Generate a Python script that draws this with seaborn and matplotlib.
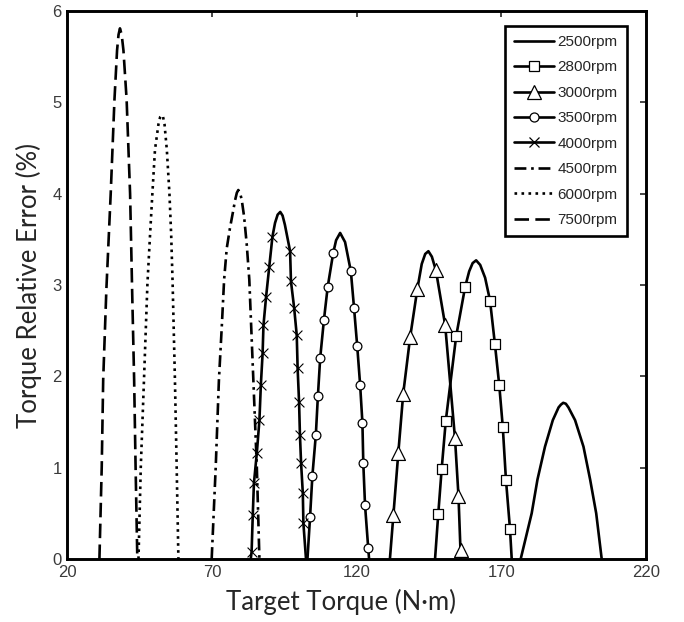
import matplotlib
matplotlib.use("Agg")
import matplotlib.pyplot as plt
from matplotlib.lines import Line2D
import seaborn as sns

# curve points (torque N*m, relative error %)
x_2500 = [176.7, 180.5, 182.5, 185.1, 187.8, 189.8, 190.6, 191.4, 192.3, 193.2, 195.5, 198.4, 200.7, 202.8, 204.7]
y_2500 = [0.0, 0.50, 0.87, 1.23, 1.52, 1.66, 1.69, 1.71, 1.70, 1.66, 1.52, 1.23, 0.87, 0.50, 0.0]

x_2800 = [147.1, 148.2, 149.4, 150.8, 154.4, 157.5, 158.9, 160.1, 161.3, 162.7, 164.4, 166.1, 167.8, 169.3, 170.5, 171.6, 173.0, 173.6]
y_2800 = [0.0, 0.49, 0.99, 1.51, 2.44, 2.98, 3.15, 3.24, 3.27, 3.22, 3.08, 2.83, 2.35, 1.90, 1.45, 0.87, 0.33, 0.0]
mx_2800 = [148.2, 149.4, 150.8, 154.4, 157.5, 166.1, 167.8, 169.3, 170.5, 171.6, 173.0]
my_2800 = [0.49, 0.99, 1.51, 2.44, 2.98, 2.83, 2.35, 1.90, 1.45, 0.87, 0.33]

x_3000 = [131.5, 132.7, 134.4, 136.1, 138.5, 141.0, 142.5, 143.7, 144.8, 146.0, 147.4, 150.6, 154.0, 155.2, 156.0]
y_3000 = [0.0, 0.48, 1.16, 1.81, 2.43, 2.96, 3.23, 3.34, 3.37, 3.31, 3.16, 2.56, 1.32, 0.69, 0.0]
mx_3000 = [132.7, 134.4, 136.1, 138.5, 141.0, 147.4, 150.6, 154.0, 155.2, 156.0]
my_3000 = [0.48, 1.16, 1.81, 2.43, 2.96, 3.16, 2.56, 1.32, 0.69, 0.10]

x_3500 = [103.0, 103.9, 104.7, 105.9, 106.6, 107.4, 108.7, 110.0, 111.9, 112.9, 114.3, 116.0, 118.0, 119.1, 120.2, 121.2, 122.0, 122.3, 122.9, 124.0, 124.3]
y_3500 = [0.0, 0.46, 0.91, 1.36, 1.78, 2.20, 2.62, 2.98, 3.35, 3.49, 3.57, 3.47, 3.15, 2.75, 2.33, 1.91, 1.49, 1.05, 0.59, 0.12, 0.0]
mx_3500 = [103.9, 104.7, 105.9, 106.6, 107.4, 108.7, 110.0, 111.9, 118.0, 119.1, 120.2, 121.2, 122.0, 122.3, 122.9, 124.0]
my_3500 = [0.46, 0.91, 1.36, 1.78, 2.20, 2.62, 2.98, 3.35, 3.15, 2.75, 2.33, 1.91, 1.49, 1.05, 0.59, 0.12]

x_4000 = [83.4, 83.7, 84.1, 84.5, 85.5, 86.4, 86.9, 87.5, 87.8, 88.7, 89.8, 90.9, 91.8, 92.7, 93.6, 94.4, 95.2, 97.0, 97.3, 98.4, 99.3, 99.6, 100.1, 100.4, 100.8, 101.4, 101.6, 102.5]
y_4000 = [0.0, 0.08, 0.48, 0.83, 1.16, 1.52, 1.91, 2.25, 2.56, 2.87, 3.20, 3.53, 3.68, 3.77, 3.80, 3.76, 3.66, 3.37, 3.04, 2.75, 2.45, 2.09, 1.72, 1.36, 1.05, 0.72, 0.39, 0.0]
mx_4000 = [83.7, 84.1, 84.5, 85.5, 86.4, 86.9, 87.5, 87.8, 88.7, 89.8, 90.9, 97.0, 97.3, 98.4, 99.3, 99.6, 100.1, 100.4, 100.8, 101.4, 101.6]
my_4000 = [0.08, 0.48, 0.83, 1.16, 1.52, 1.91, 2.25, 2.56, 2.87, 3.20, 3.53, 3.37, 3.04, 2.75, 2.45, 2.09, 1.72, 1.36, 1.05, 0.72, 0.39]

x_4500 = [69.9, 71.3, 72.4, 73.4, 74.2, 75.1, 76.2, 77.2, 78.0, 78.6, 79.1, 79.7, 80.3, 81.1, 82.0, 82.9, 84.3, 85.5, 86.4]
y_4500 = [0.0, 1.01, 1.96, 2.55, 3.06, 3.40, 3.62, 3.79, 3.93, 4.01, 4.04, 4.01, 3.93, 3.75, 3.45, 3.06, 1.96, 1.01, 0.0]

x_6000 = [44.6, 45.4, 46.5, 47.7, 48.6, 49.4, 50.3, 51.5, 52.1, 52.6, 53.1, 53.6, 54.4, 55.3, 55.9, 56.4, 57.2, 57.8, 58.4]
y_6000 = [0.0, 1.01, 1.96, 3.02, 3.55, 4.0, 4.48, 4.76, 4.84, 4.86, 4.84, 4.76, 4.48, 4.0, 3.55, 3.02, 1.96, 1.01, 0.0]

x_7500 = [31.1, 31.9, 32.4, 33.5, 35.0, 36.3, 37.2, 37.7, 38.2, 38.8, 39.4, 40.5, 41.7, 42.4, 43.1, 43.6, 44.2]
y_7500 = [0.0, 1.01, 1.96, 2.95, 4.0, 5.03, 5.57, 5.74, 5.81, 5.74, 5.57, 5.03, 4.0, 2.95, 1.96, 1.01, 0.0]

labels = ["2500rpm", "2800rpm", "3000rpm", "3500rpm", "4000rpm", "4500rpm", "6000rpm", "7500rpm"]

sns.set_style("white")
plt.rcParams['font.family'] = ['Liberation Sans', 'DejaVu Sans']

fig = plt.figure(figsize=(6.84, 6.22), dpi=100)
ax = fig.add_axes([0.0984, 0.1013, 0.846, 0.881])

lw = 1.9
dash_long = (0, (5.5, 2.4))
dash_dot = (0, (4.5, 1.8, 1.0, 1.8))
curves = [
    (x_2500, y_2500, '-'),
    (x_2800, y_2800, '-'),
    (x_3000, y_3000, '-'),
    (x_3500, y_3500, '-'),
    (x_4000, y_4000, '-'),
    (x_4500, y_4500, dash_dot),
    (x_6000, y_6000, ':'),
    (x_7500, y_7500, dash_long),
]
for xs, ys, ls in curves:
    sns.lineplot(x=xs, y=ys, ax=ax, color='black', linewidth=lw, linestyle=ls,
                 estimator=None, sort=False, legend=False)

# markers on the marked curves
sns.scatterplot(x=mx_2800, y=my_2800, ax=ax, marker='s', s=42, color='white',
                edgecolor='black', linewidth=0.9, zorder=3, legend=False)
sns.scatterplot(x=mx_3000, y=my_3000, ax=ax, marker='^', s=100, color='white',
                edgecolor='black', linewidth=0.9, zorder=3, legend=False)
sns.scatterplot(x=mx_3500, y=my_3500, ax=ax, marker='o', s=40, color='white',
                edgecolor='black', linewidth=0.9, zorder=3, legend=False)
sns.scatterplot(x=mx_4000, y=my_4000, ax=ax, marker='x', s=50, color='black',
                linewidth=0.8, zorder=3, legend=False)

ax.set_xlim(20, 220)
ax.set_ylim(0, 6)
ax.set_xticks([20, 70, 120, 170, 220])
ax.set_yticks([0, 1, 2, 3, 4, 5, 6])
ax.tick_params(direction='in', length=4, width=1.2, top=True, right=True,
               labelsize=12, labelcolor='#3a3a3a', pad=4)
for sp in ax.spines.values():
    sp.set_linewidth(2.1)
    sp.set_color('black')

ax.set_xlabel("Target Torque (N·m)", fontsize=18.5, family=['Lato', 'DejaVu Sans'])
ax.set_ylabel("Torque Relative Error (%)", fontsize=18.5, family=['Lato', 'DejaVu Sans'])
ax.xaxis.set_label_coords(0.473, -0.055)
ax.yaxis.set_label_coords(-0.044, 0.5)

handles = [
    Line2D([], [], color='black', lw=lw, ls='-'),
    Line2D([], [], color='black', lw=lw, ls='-', marker='s', ms=6.5, mfc='white', mec='black', mew=0.9),
    Line2D([], [], color='black', lw=lw, ls='-', marker='^', ms=10, mfc='white', mec='black', mew=0.9),
    Line2D([], [], color='black', lw=lw, ls='-', marker='o', ms=6.5, mfc='white', mec='black', mew=0.9),
    Line2D([], [], color='black', lw=lw, ls='-', marker='x', ms=7.5, mec='black', mew=0.9),
    Line2D([], [], color='black', lw=lw, ls=dash_dot),
    Line2D([], [], color='black', lw=lw, ls=':'),
    Line2D([], [], color='black', lw=lw, ls=dash_long),
]
leg = ax.legend(handles, labels, loc='upper right', bbox_to_anchor=(0.967, 0.973),
                borderaxespad=0, fontsize=11, fancybox=False, framealpha=1,
                edgecolor='black', handlelength=2.6, labelspacing=0.75,
                handletextpad=0.25, borderpad=0.6)
leg.get_frame().set_linewidth(1.9)

fig.savefig("out.png", dpi=100)
